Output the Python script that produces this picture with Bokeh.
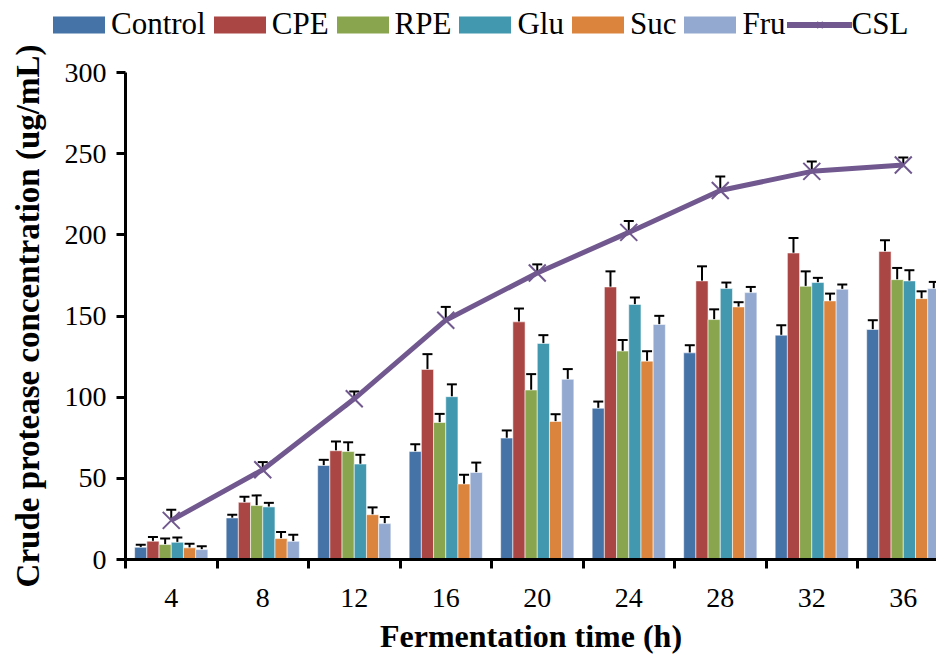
from bokeh.plotting import figure
from bokeh.layouts import column
from bokeh.models import (ColumnDataSource, Range1d, FixedTicker, Whisker, TeeHead,
                          Legend, LegendItem)
from bokeh.embed import file_html
from bokeh.resources import INLINE

# ---------------- data ----------------
times = ["4", "8", "12", "16", "20", "24", "28", "32", "36"]

control = [7.5, 25.6, 57.9, 66.5, 74.8, 93.2, 127.3, 138.2, 141.7]
control_err = [1.6, 2.0, 3.5, 4.5, 4.7, 4.1, 4.7, 6.1, 5.7]
cpe = [11.3, 35.2, 67.0, 117.1, 146.4, 167.9, 171.6, 188.8, 189.8]
cpe_err = [2.5, 3.5, 5.7, 9.4, 8.2, 9.6, 9.0, 9.2, 6.8]
rpe = [9.2, 33.2, 66.5, 84.4, 104.4, 128.4, 147.8, 168.3, 172.4]
rpe_err = [3.7, 6.3, 5.7, 5.3, 9.8, 6.8, 6.3, 9.2, 7.2]
glu = [10.6, 32.4, 58.8, 100.3, 133.1, 157.1, 166.9, 170.6, 171.6]
glu_err = [3.0, 2.5, 5.7, 7.6, 5.1, 4.3, 3.7, 2.9, 6.6]
suc = [7.2, 12.9, 27.6, 46.5, 85.0, 122.2, 155.6, 159.3, 160.7]
suc_err = [2.5, 4.1, 4.5, 5.7, 4.5, 6.1, 2.9, 4.5, 4.5]
fru = [6.1, 11.2, 22.1, 53.6, 111.0, 144.8, 164.4, 166.5, 166.9]
fru_err = [2.0, 4.1, 4.1, 6.1, 6.3, 5.3, 3.5, 2.9, 4.1]
csl = [24.1, 55.3, 99.0, 147.4, 176.5, 201.5, 227.3, 239.1, 243.0]
csl_err = [6.5, 4.7, 4.5, 8.2, 5.3, 7.0, 8.6, 6.1, 4.7]

bar_series = [
    ("Control", control, control_err, "#4572A7"),
    ("CPE", cpe, cpe_err, "#AA4643"),
    ("RPE", rpe, rpe_err, "#89A54E"),
    ("Glu", glu, glu_err, "#4198AF"),
    ("Suc", suc, suc_err, "#DB843D"),
    ("Fru", fru, fru_err, "#93A9CF"),
]
csl_color = "#71588F"

FONT = "Liberation Serif"
LEG_H = 40

# ---------------- main figure ----------------
n = len(times)
centers = [i + 0.5 for i in range(n)]
bar_w = 1 / 7.5

p = figure(width=936, height=656 - LEG_H, output_backend="svg", toolbar_location=None,
           x_range=Range1d(0, 8.863), y_range=Range1d(0, 300),
           min_border_left=125, min_border_right=0, min_border_top=72 - LEG_H,
           min_border_bottom=96)
p.frame_align = False
p.outline_line_color = None
p.xgrid.visible = False
p.ygrid.visible = False

# small figure above the plot that carries only the key
lf = figure(width=936, height=LEG_H, output_backend="svg", toolbar_location=None,
            x_range=Range1d(0, 1), y_range=Range1d(0, 1),
            x_axis_type=None, y_axis_type=None,
            min_border_left=0, min_border_right=0, min_border_top=0, min_border_bottom=0)
lf.frame_align = False
lf.outline_line_color = None
lf.xgrid.visible = False
lf.ygrid.visible = False
key_src = ColumnDataSource(dict(x=[-5.0], y=[-5.0]))  # off-frame key anchor

legend_items = []
nb = len(bar_series)
for j, (name, vals, errs, color) in enumerate(bar_series):
    off = (j - (nb - 1) / 2) * bar_w
    xs = [c + off for c in centers]
    src = ColumnDataSource(dict(x=xs, top=vals,
                                up=[v + e for v, e in zip(vals, errs)]))
    p.vbar(x="x", top="top", bottom=0, width=bar_w, source=src,
           fill_color=color, line_color="white", line_alpha=0.55, line_width=1)
    w = Whisker(base="x", lower="top", upper="up", source=src, dimension="height",
                line_color="black", line_width=2,
                upper_head=TeeHead(size=10, line_color="black", line_width=2),
                lower_head=None)
    p.add_layout(w)
    kr = lf.vbar(x="x", top="y", width=0.1, source=key_src, fill_color=color,
                 line_color=None)
    legend_items.append(LegendItem(label=name, renderers=[kr]))

csrc = ColumnDataSource(dict(x=centers, y=csl, up=[v + e for v, e in zip(csl, csl_err)]))
p.line("x", "y", source=csrc, line_color=csl_color, line_width=5)
p.scatter("x", "y", source=csrc, marker="x", size=24, line_color=csl_color,
          line_width=2)
cw = Whisker(base="x", lower="y", upper="up", source=csrc, dimension="height",
             line_color="black", line_width=2,
             upper_head=TeeHead(size=10, line_color="black", line_width=2),
             lower_head=None)
p.add_layout(cw)
kl = lf.line("x", "y", source=key_src, line_color=csl_color, line_width=6,
             line_cap="round")
ks = lf.scatter("x", "y", source=key_src, marker="x", size=24, line_color=csl_color,
                line_width=2)
legend_items.append(LegendItem(label="CSL", renderers=[kl, ks]))

# ---------------- axes ----------------
xa = p.xaxis[0]
xa.ticker = FixedTicker(ticks=centers, minor_ticks=list(range(n + 1)))
xa.major_label_overrides = {c: t for c, t in zip(centers, times)}
xa.major_tick_out = 0
xa.major_tick_in = 0
xa.minor_tick_out = 9
xa.minor_tick_in = 0
xa.minor_tick_line_width = 3
xa.minor_tick_line_color = "black"
xa.axis_line_width = 3
xa.axis_line_color = "black"
xa.major_label_standoff = 20
xa.major_label_text_font = FONT
xa.major_label_text_font_size = "28px"
xa.major_label_text_color = "black"
xa.axis_label = "Fermentation time (h)"
xa.axis_label_text_font = FONT
xa.axis_label_text_font_size = "32px"
xa.axis_label_text_font_style = "bold"
xa.axis_label_text_color = "black"
xa.axis_label_standoff = 8

ya = p.yaxis[0]
ya.ticker = FixedTicker(ticks=[0, 50, 100, 150, 200, 250, 300], minor_ticks=[])
ya.major_tick_out = 9
ya.major_tick_in = 0
ya.major_tick_line_width = 3
ya.major_tick_line_color = "black"
ya.minor_tick_out = 0
ya.minor_tick_in = 0
ya.axis_line_width = 3
ya.axis_line_color = "black"
ya.major_label_standoff = 10
ya.major_label_text_font = FONT
ya.major_label_text_font_size = "28px"
ya.major_label_text_color = "black"
ya.axis_label = "Crude protease concentration (ug/mL)"
ya.axis_label_text_font = FONT
ya.axis_label_text_font_size = "33px"
ya.axis_label_text_font_style = "bold"
ya.axis_label_text_color = "black"
ya.axis_label_standoff = 16

# ---------------- legend ----------------
legend = Legend(items=legend_items, orientation="horizontal",
                location=(46, -2), padding=0, margin=0, spacing=1,
                label_standoff=0, glyph_width=65, glyph_height=21,
                label_text_font=FONT, label_text_font_size="31px",
                label_text_color="black", border_line_color=None,
                background_fill_alpha=0)
lf.add_layout(legend, "center")

layout = column(lf, p, spacing=0)
open("out.html", "w").write(file_html(layout, INLINE))
